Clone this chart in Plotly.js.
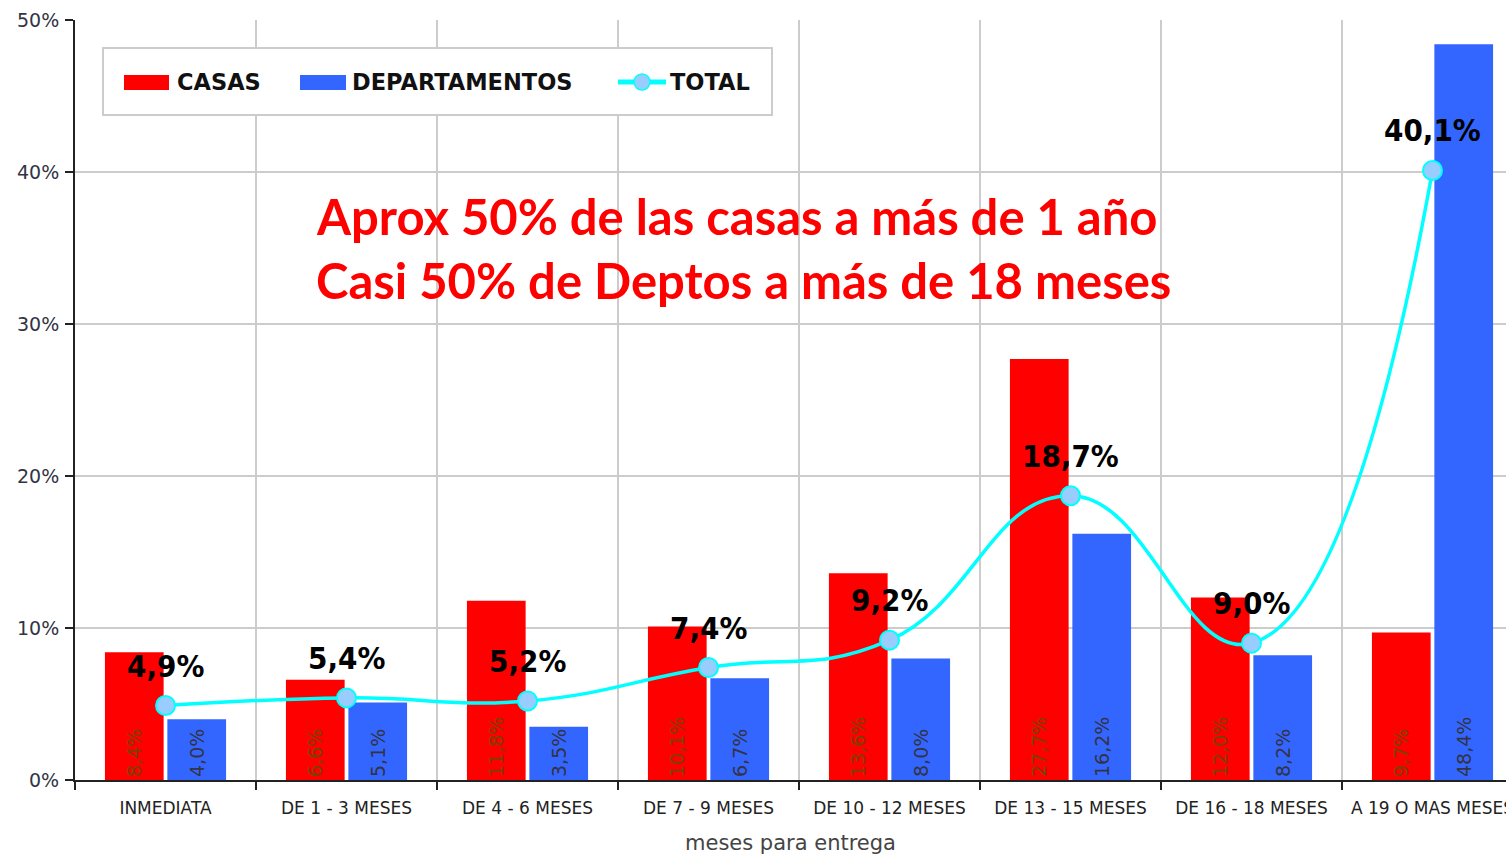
<!DOCTYPE html>
<html>
<head>
<meta charset="utf-8">
<script src="https://cdn.plot.ly/plotly-3.0.1.min.js"></script>
<style>
html,body{margin:0;padding:0;background:#fff;}
#chart{width:1506px;height:855px;}
</style>
</head>
<body>
<div id="chart"></div>
<script>
// ---- data ----
const categories = ['INMEDIATA','DE 1 - 3 MESES','DE 4 - 6 MESES','DE 7 - 9 MESES','DE 10 - 12 MESES','DE 13 - 15 MESES','DE 16 - 18 MESES','A 19 O MAS MESES'];
const casas = [8.4, 6.6, 11.8, 10.1, 13.6, 27.7, 12.0, 9.7];
const departamentos = [4.0, 5.1, 3.5, 6.7, 8.0, 16.2, 8.2, 48.4];
const total = [4.9, 5.4, 5.2, 7.4, 9.2, 18.7, 9.0, 40.1];
const seriesNames = ['CASAS', 'DEPARTAMENTOS', 'TOTAL'];
const yTicks = [0, 10, 20, 30, 40, 50];
const xTitle = 'meses para entrega';
const note1 = 'Aprox 50% de las casas a más de 1 año';
const note2 = 'Casi 50% de Deptos a más de 18 meses';

const fmt = v => v.toFixed(1).replace('.', ',') + '%';

// layout helpers (pixel -> paper, plot area 75..1506 x 20..780)
const L = 75, R = 1506, T = 20, B = 780;
const px = x => (x - L) / (R - L);
const py = y => (B - y) / (B - T);

const condensed = '"DejaVu Sans Condensed", "DejaVu Sans", sans-serif';
const sans = '"DejaVu Sans", sans-serif';

const traces = [
  {
    type: 'bar', name: seriesNames[0], x: categories, y: casas,
    marker: {color: '#ff0000'},
    text: casas.map(fmt), textposition: 'inside', insidetextanchor: 'start',
    textangle: -90, constraintext: 'none',
    textfont: {family: sans, size: 19, color: '#7a4000'},
    hoverinfo: 'x+y'
  },
  {
    type: 'bar', name: seriesNames[1], x: categories, y: departamentos,
    marker: {color: '#3366ff'},
    text: departamentos.map(fmt), textposition: 'inside', insidetextanchor: 'start',
    textangle: -90, constraintext: 'none',
    textfont: {family: sans, size: 19, color: '#333344'},
    hoverinfo: 'x+y'
  },
  {
    type: 'scatter', mode: 'lines+markers', name: seriesNames[2], x: categories, y: total,
    line: {color: '#00ffff', width: 3.5, shape: 'spline', smoothing: 1.3},
    marker: {size: 19, color: '#99ccff', line: {color: '#00ffff', width: 2}},
    hoverinfo: 'x+y'
  }
];

const annotations = total.map((v, i) => ({
  x: categories[i], y: v, xref: 'x', yref: 'y',
  text: fmt(v), showarrow: false, yshift: 40,
  font: {family: condensed, size: 31, color: '#000', weight: 'bold'}
}));

const noteFont = {family: 'Lato, sans-serif', size: 49, color: '#ff0000', weight: 'bold'};
annotations.push(
  {xref: 'paper', yref: 'paper', x: px(314), y: py(216), xanchor: 'left', yanchor: 'middle',
   text: note1, showarrow: false, font: noteFont},
  {xref: 'paper', yref: 'paper', x: px(314), y: py(280), xanchor: 'left', yanchor: 'middle',
   text: note2, showarrow: false, font: noteFont}
);

// custom legend
const legFont = {family: sans, size: 22.5, color: '#111', weight: 'bold'};
annotations.push(
  {xref: 'paper', yref: 'paper', x: px(175), y: py(82), xanchor: 'left', yanchor: 'middle', text: seriesNames[0], showarrow: false, font: legFont},
  {xref: 'paper', yref: 'paper', x: px(350), y: py(82), xanchor: 'left', yanchor: 'middle', text: seriesNames[1], showarrow: false, font: legFont},
  {xref: 'paper', yref: 'paper', x: px(668), y: py(82), xanchor: 'left', yanchor: 'middle', text: seriesNames[2], showarrow: false, font: legFont}
);

const shapes = [
  {type: 'rect', xref: 'paper', yref: 'paper', x0: px(103), x1: px(772), y0: py(48), y1: py(115),
   fillcolor: '#ffffff', line: {color: '#cccccc', width: 2}, layer: 'above'},
  {type: 'rect', xref: 'paper', yref: 'paper', x0: px(124), x1: px(169), y0: py(75), y1: py(90),
   fillcolor: '#ff0000', line: {width: 0}, layer: 'above'},
  {type: 'rect', xref: 'paper', yref: 'paper', x0: px(300), x1: px(346), y0: py(75), y1: py(90),
   fillcolor: '#3366ff', line: {width: 0}, layer: 'above'},
  {type: 'line', xref: 'paper', yref: 'paper', x0: px(618), x1: px(666), y0: py(82), y1: py(82),
   line: {color: '#00ffff', width: 5}, layer: 'above'},
  {type: 'circle', xref: 'paper', yref: 'paper', x0: px(634), x1: px(650), y0: py(74), y1: py(90),
   fillcolor: '#99ccff', line: {color: '#00ffff', width: 1.5}, layer: 'above'}
];

const layout = {
  width: 1506, height: 855,
  margin: {l: L, r: 0, t: T, b: 855 - B, pad: 0},
  paper_bgcolor: '#ffffff', plot_bgcolor: '#ffffff',
  showlegend: false,
  barmode: 'group', bargap: 0.31, bargroupgap: 0.06,
  xaxis: {
    type: 'category', range: [-0.5, -0.5 + (R - L) / 181], tickson: 'boundaries',
    ticks: 'outside', ticklen: 8, tickwidth: 2, tickcolor: '#222',
    showline: true, linecolor: '#222', linewidth: 2,
    showgrid: true, gridcolor: '#cccccc', gridwidth: 2,
    tickfont: {family: sans, size: 17, color: '#222'},
    ticklabelstandoff: 12,
    title: {text: xTitle, font: {family: sans, size: 21, color: '#444'}, standoff: 18},
    fixedrange: true
  },
  yaxis: {
    range: [0, 50], tickvals: yTicks, ticktext: yTicks.map(v => v + '%'),
    ticks: 'outside', ticklen: 8, tickwidth: 2, tickcolor: '#222',
    showline: true, linecolor: '#222', linewidth: 2,
    showgrid: true, gridcolor: '#cccccc', gridwidth: 2, zeroline: false,
    tickfont: {family: sans, size: 19, color: '#334'},
    ticklabelstandoff: 2,
    fixedrange: true
  },
  annotations: annotations,
  shapes: shapes
};

Plotly.newPlot('chart', traces, layout, {displayModeBar: false, staticPlot: true});
</script>
</body>
</html>
